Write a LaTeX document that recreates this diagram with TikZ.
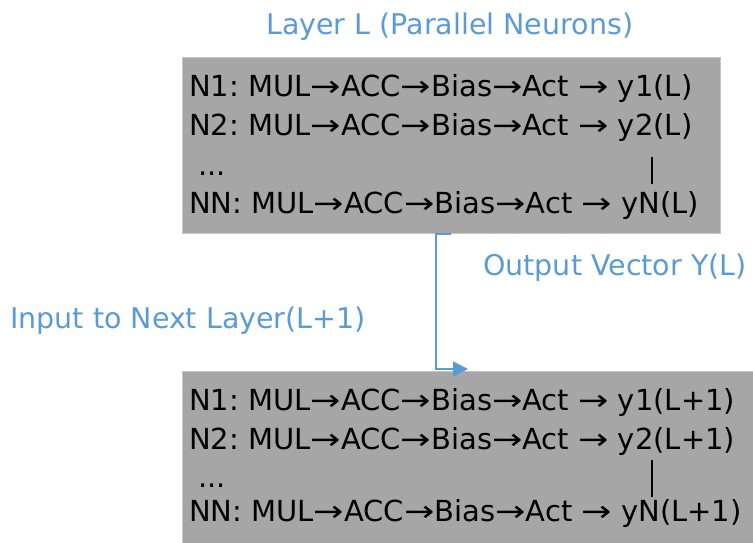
\documentclass[tikz,border=0pt]{standalone}
\usepackage{fontspec}
\setmainfont{DejaVu Sans}
\usetikzlibrary{arrows.meta}
\frenchspacing
\definecolor{boxfill}{RGB}{166,166,166}
\definecolor{boxedge}{RGB}{196,196,196}
\definecolor{accent}{RGB}{91,155,213}
% a slightly stretched arrow glyph
\newcommand{\ar}{\scalebox{1.25}[1]{→}}
\tikzset{
  layerbox/.style={draw=boxedge, line width=1pt, fill=boxfill, anchor=north west, inner sep=0pt},
  rowtext/.style={anchor=base west, inner sep=0pt, font=\fontsize{29}{34}\selectfont, text=black},
  caption/.style={anchor=base west, inner sep=0pt, font=\fontsize{28.5}{34}\selectfont, text=accent},
  bar/.style={line width=2.6pt, black},
  conn/.style={draw=accent, line width=1.5pt, -{Triangle[length=15pt,width=15pt]}}
}
\begin{document}
\begin{tikzpicture}[x=1pt,y=-1pt]
\useasboundingbox (0,0) rectangle (753,542);

% layer L
\node[caption] (title) at (266,34) {Layer L (Parallel Neurons)};
\node[layerbox, minimum width=538pt, minimum height=176pt] (layerL) at (182,57) {};
\node[rowtext] (a1) at (189,96) {N1: MUL\ar ACC\ar Bias\ar Act \ar{} y1(L)};
\node[rowtext] (a2) at (189,135.5) {N2: MUL\ar ACC\ar Bias\ar Act \ar{} y2(L)};
\node[rowtext] (a3) at (189,175) {\ ...};
\node[rowtext] (a4) at (189,213) {NN: MUL\ar ACC\ar Bias\ar Act \ar{} yN(L)};
\draw[bar] (652,157) -- (652,184);

% layer L+1
\node[layerbox, minimum width=600pt, minimum height=200pt] (layerN) at (182,371) {};
\node[rowtext] (b1) at (189,410.5) {N1: MUL\ar ACC\ar Bias\ar Act \ar{} y1(L+1)};
\node[rowtext] (b2) at (189,449) {N2: MUL\ar ACC\ar Bias\ar Act \ar{} y2(L+1)};
\node[rowtext] (b3) at (189,487.5) {\ ...};
\node[rowtext] (b4) at (189,521.5) {NN: MUL\ar ACC\ar Bias\ar Act \ar{} yN(L+1)};
\draw[bar] (652,460) -- (652,497);

% connector between the layers
\coordinate (cstart) at (451,234);
\coordinate (ctip) at (468,369);
\draw[conn] (cstart) -- (436,234) |- (ctip);

\node[caption] (outlbl) at (483,275.5) {Output Vector Y(L)};
\node[caption] (inlbl) at (10,328.5) {Input to Next Layer(L+1)};
\end{tikzpicture}
\end{document}
